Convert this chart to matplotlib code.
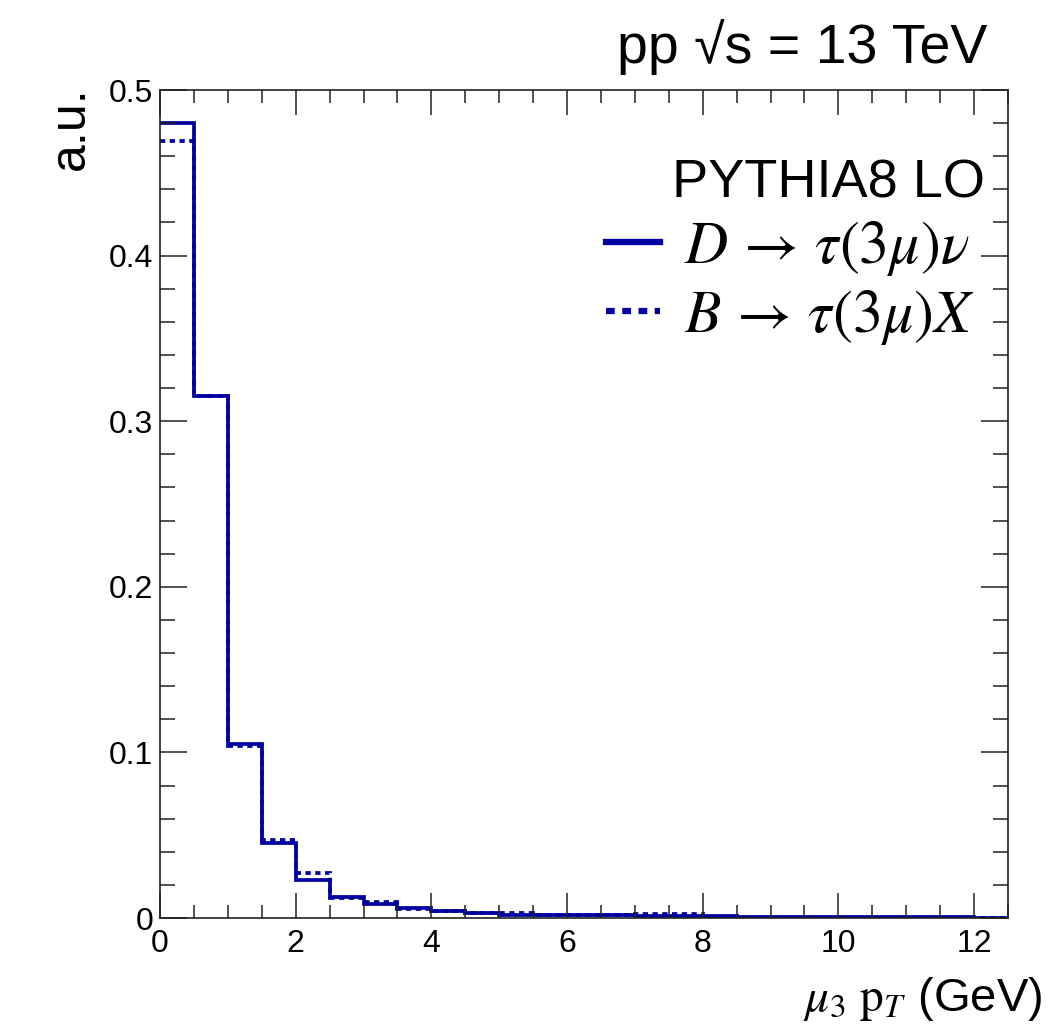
import numpy as np
import matplotlib
matplotlib.use("Agg")
import matplotlib.pyplot as plt
from matplotlib.ticker import MultipleLocator, FixedLocator, FixedFormatter

plt.rcParams['font.family'] = ['Liberation Sans', 'DejaVu Sans']
plt.rcParams['mathtext.fontset'] = 'custom'
plt.rcParams['mathtext.rm'] = 'Liberation Sans'
plt.rcParams['mathtext.it'] = 'Liberation Sans:italic'
plt.rcParams['mathtext.bf'] = 'Liberation Sans:bold'

# ---- data ----
bin_edges = np.arange(0, 12.5 + 0.25, 0.5)
d_tau_nu = [0.480, 0.315, 0.105, 0.045, 0.023, 0.0125, 0.0085, 0.0058, 0.0044,
            0.0030, 0.0018, 0.0020, 0.0019, 0.0018, 0.0015, 0.0014, 0.0010,
            0.0008, 0.0007, 0.0006, 0.0005, 0.0005, 0.0004, 0.0004, 0.0003]
b_tau_x = [0.469, 0.315, 0.104, 0.047, 0.027, 0.0120, 0.0095, 0.0056, 0.0044,
           0.0030, 0.0028, 0.0020, 0.0019, 0.0018, 0.0025, 0.0025, 0.0002,
           0.0002, 0.0001, 0.0001, 0.0001, 0.0001, 0.0001, 0.0000, 0.0000]
x_ticks = [0, 2, 4, 6, 8, 10, 12]
x_ticklabels = ["0", "2", "4", "6", "8", "10", "12"]
y_ticks = [0, 0.1, 0.2, 0.3, 0.4, 0.5]
y_ticklabels = ["0", "0.1", "0.2", "0.3", "0.4", "0.5"]
labels = [r"$D\,\rightarrow\,\tau(3\mu)\nu$", r"$B\,\rightarrow\,\tau(3\mu)X$"]

color = '#0000a0'

W, H = 1052, 1025
fig = plt.figure(figsize=(W / 100, H / 100), dpi=100)
ax = fig.add_axes([160 / W, 1 - 918 / H, (1008 - 160) / W, (918 - 90) / H])

h_b = ax.stairs(b_tau_x, bin_edges, baseline=None, color=color, lw=2.7,
                linestyle=(0, (1.4, 1.2)), label=labels[1])
h_d = ax.stairs(d_tau_nu, bin_edges, baseline=None, color=color, lw=2.7,
                linestyle='-', label=labels[0])

ax.set_xlim(0, 12.5)
ax.set_ylim(0, 0.5)
ax.xaxis.set_major_locator(FixedLocator(x_ticks))
ax.xaxis.set_major_formatter(FixedFormatter(x_ticklabels))
ax.xaxis.set_minor_locator(MultipleLocator(0.5))
ax.yaxis.set_major_locator(FixedLocator(y_ticks))
ax.yaxis.set_major_formatter(FixedFormatter(y_ticklabels))
ax.yaxis.set_minor_locator(MultipleLocator(0.02))

ax.tick_params(axis='both', which='both', direction='in', top=True, right=True,
               width=1.1, color='#222222')
ax.tick_params(axis='x', which='major', length=18, pad=8, labelsize=23)
ax.tick_params(axis='x', which='minor', length=9.5)
ax.tick_params(axis='y', which='major', length=19.5, pad=5, labelsize=23)
ax.tick_params(axis='y', which='minor', length=10.5)
for s in ax.spines.values():
    s.set_linewidth(1.2)
    s.set_color('#222222')

# texts
fig.text(987 / W, 1 - 63 / H, "pp \u221as = 13 TeV", ha='right',
         va='baseline', fontsize=40)
fig.text(48 / W, 1 - 86 / H, "a.u.", rotation=90, ha='left', va='top', fontsize=36)
xl = fig.text(1042 / W, 1 - 1011 / H, r"$\mu_3\ \mathrm{p}_T$ (GeV)", ha='right',
              va='baseline', fontsize=34)
xl.set_math_fontfamily('stix')
fig.text(985 / W, 1 - 198 / H, "PYTHIA8 LO", ha='right', va='baseline', fontsize=39)

leg = ax.legend(handles=[h_d, h_b], labels=labels, loc='upper left',
                bbox_to_anchor=(606 / W, 1 - 219 / H), bbox_transform=fig.transFigure,
                frameon=False, fontsize=43, handlelength=0.9, handletextpad=0.4,
                labelspacing=0.17, borderpad=0, borderaxespad=0)
for txt in leg.get_texts():
    txt.set_math_fontfamily('stix')
for ln in leg.get_lines():
    ln.set_linewidth(4.5)

fig.savefig("out.png", dpi=100)
